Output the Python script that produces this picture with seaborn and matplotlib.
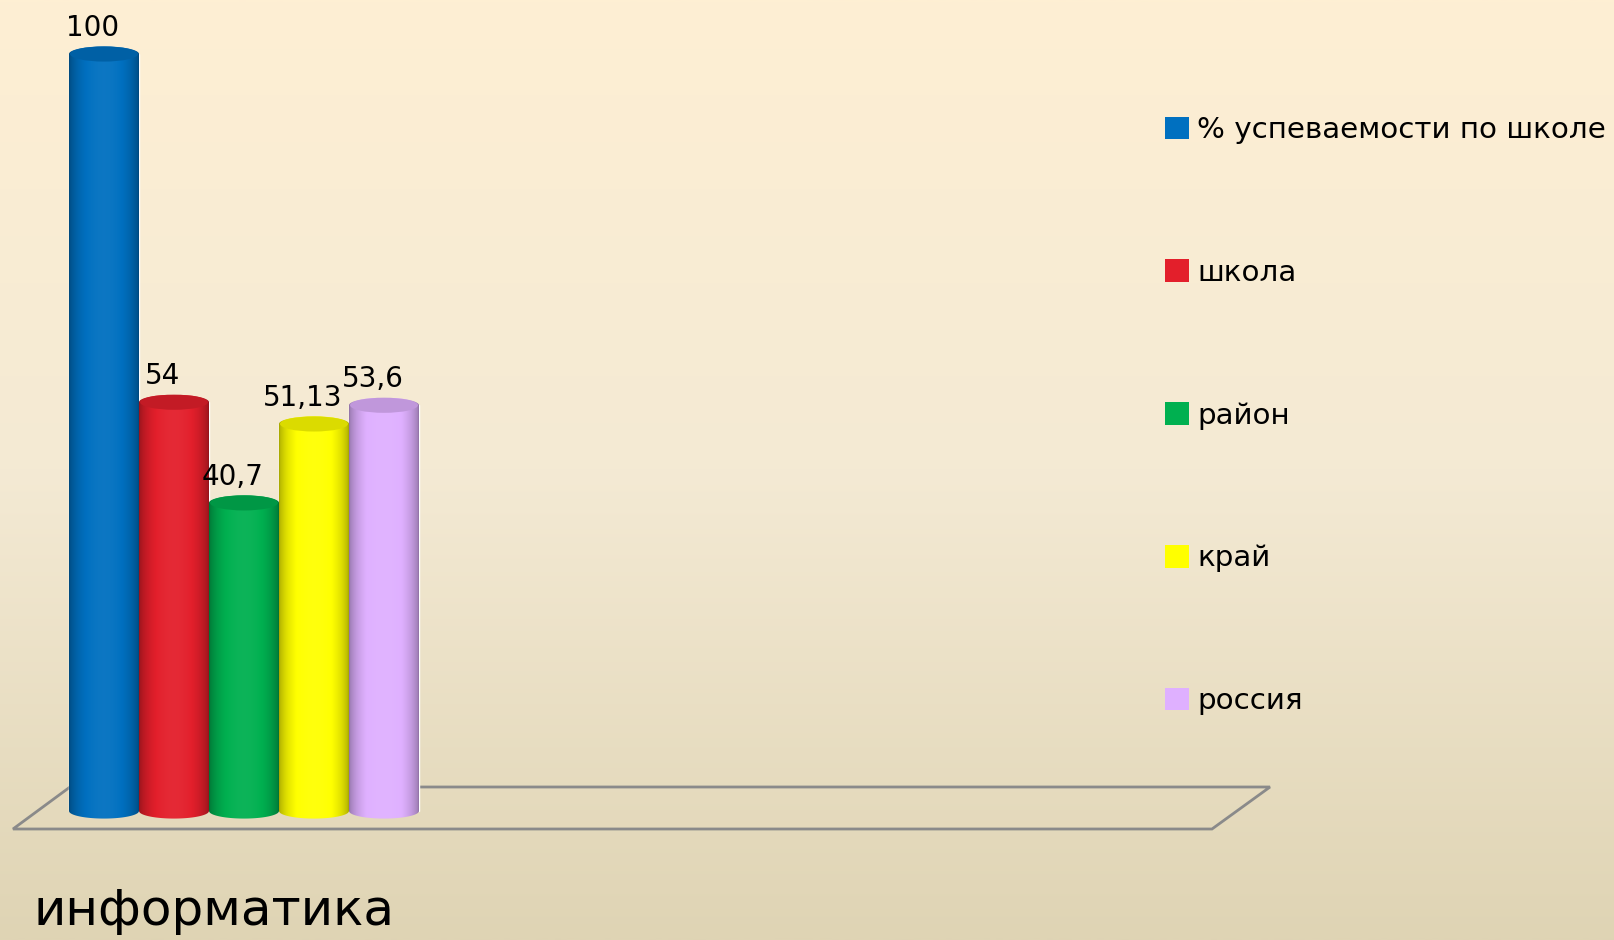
import numpy as np
import pandas as pd
import matplotlib
matplotlib.use('Agg')
import matplotlib.pyplot as plt
import seaborn as sns
from matplotlib.patches import Ellipse, Polygon, Patch
from matplotlib.colors import to_rgb

# --- data ---
CATEGORY = 'информатика'
SERIES = ['% успеваемости по школе', 'школа', 'район', 'край', 'россия']
VALUES = [100, 54, 40.7, 51.13, 53.6]
COLORS = ['#0070C0', '#E31F2B', '#00B050', '#FFFF00', '#DFB0FF']

# --- layout (pixels of the 1615x940 picture) ---
W, H, DPI = 1615, 940, 100
BAR_LEFT_PX = 69      # left edge of first bar
BAR_PX = 70           # width of one bar
BASE_PX = 811         # y of the zero line
UNIT_PX = 7.57        # pixels per percent
EY = 1.0              # half height of the cylinder caps, data units

sns.set_theme(style='white')
plt.rcParams['font.family'] = ['DejaVu Sans']
plt.rcParams['text.color'] = 'black'

fig = plt.figure(figsize=(W / DPI, H / DPI), dpi=DPI)
ax = fig.add_axes([0, 0, 1, 1])

x_lo = -0.5 - BAR_LEFT_PX / BAR_PX
x_hi = x_lo + W / BAR_PX
y_hi = BASE_PX / UNIT_PX
y_lo = y_hi - H / UNIT_PX


def px(xp, yp):
    return x_lo + xp / BAR_PX, y_hi - yp / UNIT_PX


# background gradient (top -> bottom)
stops = [0, 0.5, 1]
stop_cols = np.array([to_rgb('#FEEFD3'), to_rgb('#F4EAD4'), to_rgb('#DFD4B4')])
g = np.linspace(0, 1, 256)
bg = np.stack([np.interp(g, stops, stop_cols[:, i]) for i in range(3)], axis=-1)
bg = bg.reshape(256, 1, 3)
ax.imshow(bg, extent=(x_lo, x_hi, y_lo, y_hi), aspect='auto', zorder=0, interpolation='bilinear')

# bars
df = pd.DataFrame({'series': SERIES, 'value': VALUES})
sns.barplot(data=df, x='series', y='value', hue='series', palette=COLORS, order=SERIES,
            hue_order=SERIES, width=1.0, dodge=False, legend=False, saturation=1,
            ax=ax, zorder=2)
bars = list(ax.patches)

# floor
floor = Polygon([px(13, 829), px(1212, 829), px(1270, 787), px(70, 787)], closed=True,
                facecolor='none', edgecolor='#8a8a8a', lw=2.0, zorder=1)
ax.add_patch(floor)

# cylinder look
tt = np.linspace(0, 1, 80)
k = 0.66 + 0.42 * np.sin(np.pi * tt) ** 0.6
for bar, color, v in zip(bars, COLORS, VALUES):
    x0, w, h = bar.get_x(), bar.get_width(), bar.get_height()
    cx = x0 + w / 2
    rgb = np.array(to_rgb(color))
    img = np.where(k[:, None] <= 1, rgb * k[:, None], rgb + (1 - rgb) * (k[:, None] - 1) * 0.6)
    img = np.clip(img, 0, 1).reshape(1, -1, 3)
    a = np.linspace(0, np.pi, 60)
    bottom = np.column_stack([cx - w / 2 * np.cos(a), -EY * np.sin(a)])
    topa = np.column_stack([cx + w / 2 * np.cos(a), h + EY * np.sin(a)])
    outline = Polygon(np.vstack([bottom, topa]), closed=True, transform=ax.transData)
    im = ax.imshow(img, extent=(x0, x0 + w, -EY, h + EY), aspect='auto', zorder=3,
                   interpolation='bilinear')
    im.set_clip_path(outline)
    ax.add_patch(Ellipse((cx, h), w * 0.97, 2 * EY, facecolor=rgb * 0.86, edgecolor='none', zorder=4))
    label = f'{v:g}'.replace('.', ',')
    ax.annotate(label, xy=(cx, h), xytext=(-8, 13), textcoords='offset points',
                ha='center', va='baseline', fontsize=20, color='black', zorder=5)

# legend
handles = [Patch(facecolor=c, edgecolor='none') for c in COLORS]
ax.legend(handles, SERIES, loc='upper left', bbox_to_anchor=(1165 / W, 1 - 116 / H),
          bbox_transform=fig.transFigure, frameon=False, fontsize=21.2, labelcolor='black',
          handlelength=0.8, handleheight=0.8, handletextpad=0.3, labelspacing=3.9,
          borderpad=0, borderaxespad=0)

fig.text(34 / W, 1 - 925 / H, CATEGORY, fontsize=36, va='baseline', ha='left', color='black')

ax.set_xlim(x_lo, x_hi)
ax.set_ylim(y_lo, y_hi)
ax.axis('off')

fig.savefig('out.png', dpi=DPI)
